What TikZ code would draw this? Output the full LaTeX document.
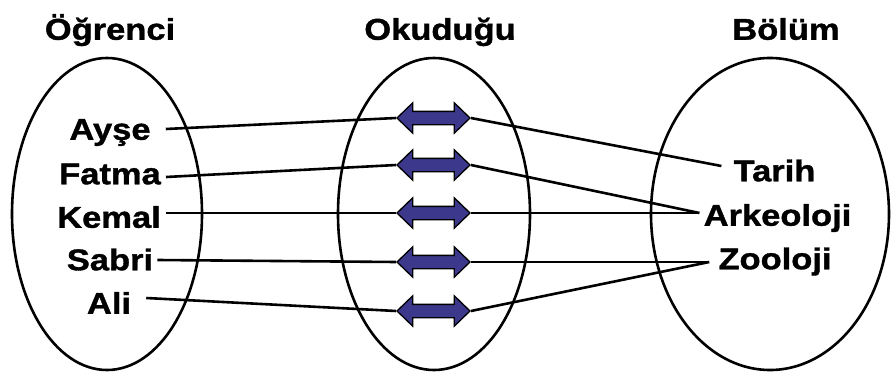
\documentclass[tikz,border=0pt]{standalone}
\usepackage{fontspec}
\newfontfamily\lblfont{Liberation Sans}[FakeStretch=1.15,FakeBold=1.2]
\usetikzlibrary{shapes.arrows,calc}
\definecolor{arrowblue}{RGB}{60,56,140}

\begin{document}
\begin{tikzpicture}[x=1pt,y=-1pt,
  lbl/.style={inner sep=0pt, font=\lblfont\bfseries\fontsize{30}{30}\selectfont,
              text height=21.5pt, text depth=0pt},
  setring/.style={draw=black, line width=2.6pt},
  link/.style={draw=black, line width=2.6pt},
  dblarrow/.style={double arrow, draw=black, line width=1.3pt, fill=arrowblue,
                   minimum height=73pt, inner xsep=0pt, inner ysep=6pt,
                   double arrow head extend=8.5pt, double arrow tip angle=88}]

  % canvas
  \fill[white] (0,0) rectangle (892,372);
  \useasboundingbox (0,0) rectangle (892,372);

  % the three sets
  \draw[setring] (107,214) ellipse [x radius=95, y radius=156];
  \draw[setring] (434,214) ellipse [x radius=96, y radius=156];
  \draw[setring] (770,214) ellipse [x radius=119, y radius=156];

  % set titles
  \node[lbl] (tOgr) at (110,29) {Öğrenci};
  \node[lbl] (tOku) at (440,29) {Okuduğu};
  \node[lbl] (tBol) at (786,29) {Bölüm};

  % students
  \node[lbl] (ayse)  at (110,129)   {Ayşe};
  \node[lbl] (fatma) at (110,173.5) {Fatma};
  \node[lbl] (kemal) at (109,217)   {Kemal};
  \node[lbl] (sabri) at (110,259.5) {Sabri};
  \node[lbl] (ali)   at (109,303)   {Ali};

  % departments
  \node[lbl] (tarih) at (774.5,170.5) {Tarih};
  \node[lbl] (arkeo) at (777.5,215)   {Arkeoloji};
  \node[lbl] (zoo)   at (775,258.5)   {Zooloji};

  % relation arrows
  \node[dblarrow] (r1) at (433.5,118) {};
  \node[dblarrow] (r2) at (433.5,165) {};
  \node[dblarrow] (r3) at (433.5,213) {};
  \node[dblarrow] (r4) at (433.5,262) {};
  \node[dblarrow] (r5) at (433.5,311) {};

  % student -> relation
  \draw[link] ($(ayse.east)+(15,0)$)    -- (r1.west);
  \draw[link] ($(fatma.east)+(5,3.5)$)  -- (r2.west);
  \draw[link] ($(kemal.east)+(5,-4)$)   -- (r3.west);
  \draw[link] ($(sabri.east)+(4,0.5)$)  -- (r4.west);
  \draw[link] ($(ali.east)+(15,-5)$)    -- (r5.west);

  % relation -> department
  \draw[link] (r1.east) -- ($(tarih.west)+(-12,-4.5)$);
  \draw[link] (r2.east) -- ($(arkeo.west)+(-4,-2)$);
  \draw[link] (r3.east) -- ($(arkeo.west)+(-4,-2)$);
  \draw[link] (r4.east) -- ($(zoo.west)+(-9,3.5)$);
  \draw[link] (r5.east) -- ($(zoo.west)+(-9,3.5)$);
\end{tikzpicture}
\end{document}
